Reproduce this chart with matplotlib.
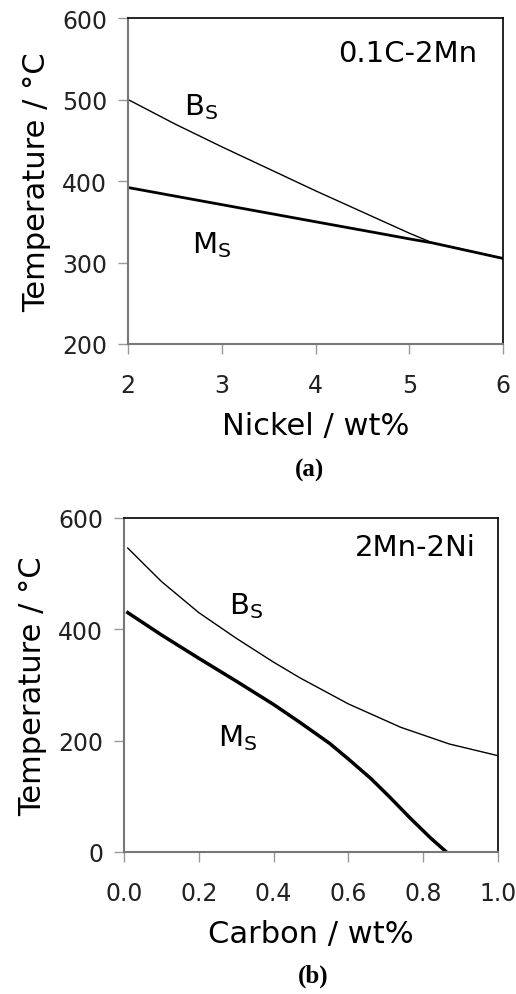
import numpy as np
import matplotlib
matplotlib.use('Agg')
import matplotlib.pyplot as plt

# panel (a): nickel series, 0.1C-2Mn
ni = [2.0, 2.5, 3.0, 3.5, 4.0, 4.5, 5.0, 5.25, 5.5, 6.0]
bs_ni = [500, 470, 442, 415, 388, 362, 336, 324, 318, 305]
ni_ms = [2.0, 3.0, 4.0, 4.67, 5.0, 5.25, 6.0]
ms_ni = [392, 371, 350, 336, 329, 324, 305]

# panel (b): carbon series, 2Mn-2Ni
c = [0.01, 0.1, 0.2, 0.3, 0.4, 0.47, 0.6, 0.74, 0.87, 1.0]
bs_c = [546, 486, 430, 384, 341, 313, 266, 224, 194, 173]
c_ms = [0.01, 0.1, 0.2, 0.3, 0.4, 0.47, 0.55, 0.6, 0.66, 0.71, 0.765, 0.82, 0.862]
ms_c = [430, 390, 348, 307, 265, 233, 195, 167, 132, 99, 61, 25, 0]

plt.rcParams['font.family'] = 'DejaVu Sans'
plt.rcParams['mathtext.default'] = 'regular'

fig = plt.figure(figsize=(5.16, 9.95), dpi=100)
W, H = 516., 995.


def box(l, t, r, b):
    return [l / W, 1 - b / H, (r - l) / W, (b - t) / H]


def style(ax):
    for s in ['top', 'right']:
        ax.spines[s].set_color('black')
        ax.spines[s].set_linewidth(1.2)
    for s in ['left', 'bottom']:
        ax.spines[s].set_color('#777777')
        ax.spines[s].set_linewidth(1.5)
    ax.tick_params(direction='out', length=7, width=1, color='#999999',
                   labelsize=17, labelcolor='#222222', pad=8)
    ax.tick_params(axis='x', pad=14)


ax1 = fig.add_axes(box(128, 19, 503, 345))
ax1.plot(ni, bs_ni, color='black', lw=1.0)
ax1.plot(ni_ms, ms_ni, color='black', lw=2.0)
ax1.set_xlim(2, 6)
ax1.set_ylim(200, 600)
ax1.set_xticks([2, 3, 4, 5, 6])
ax1.set_yticks([200, 300, 400, 500, 600])
ax1.set_xlabel('Nickel / wt%', fontsize=22, labelpad=10)
ax1.set_ylabel('Temperature / °C', fontsize=22, labelpad=8)
ax1.text(5.73, 557, '0.1C-2Mn', fontsize=21, ha='right', va='center')
ax1.text(2.6, 492, r'B$_{S}$', fontsize=21, va='center')
ax1.text(2.68, 322, r'M$_{S}$', fontsize=21, va='center')
style(ax1)

ax2 = fig.add_axes(box(124, 519, 498, 853))
ax2.plot(c, bs_c, color='black', lw=1.0)
ax2.plot(c_ms, ms_c, color='black', lw=2.5)
ax2.set_xlim(0, 1)
ax2.set_ylim(0, 600)
ax2.set_xticks([0, 0.2, 0.4, 0.6, 0.8, 1.0])
ax2.set_xticklabels(['0.0', '0.2', '0.4', '0.6', '0.8', '1.0'])
ax2.set_yticks([0, 200, 400, 600])
ax2.set_xlabel('Carbon / wt%', fontsize=22, labelpad=10)
ax2.set_ylabel('Temperature / °C', fontsize=22, labelpad=8)
ax2.text(0.94, 548, '2Mn-2Ni', fontsize=21, ha='right', va='center')
ax2.text(0.28, 443, r'B$_{S}$', fontsize=21, va='center')
ax2.text(0.25, 206, r'M$_{S}$', fontsize=21, va='center')
style(ax2)

fig.text(309 / W, 1 - 470 / H, '(a)', fontsize=18, fontweight='bold',
         family='Liberation Serif', ha='center', va='center')
fig.text(313 / W, 1 - 976 / H, '(b)', fontsize=18, fontweight='bold',
         family='Liberation Serif', ha='center', va='center')

fig.savefig('out.png', dpi=100)
